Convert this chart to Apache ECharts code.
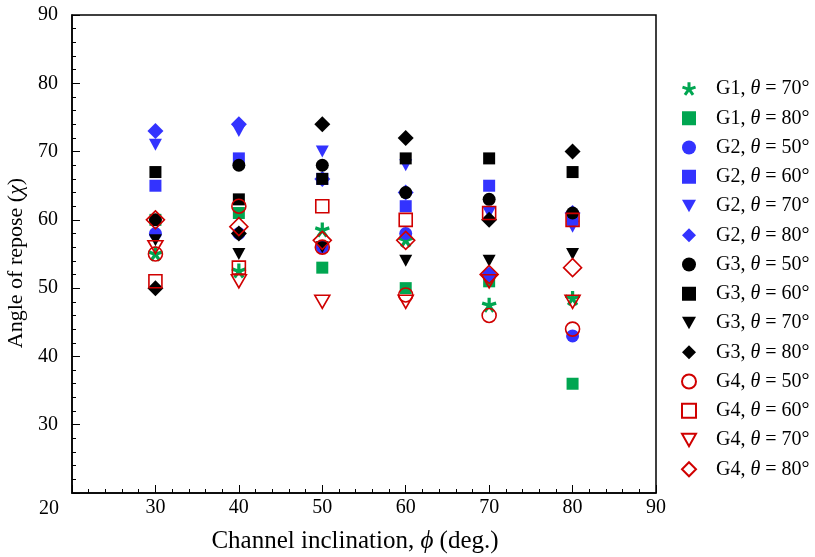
<!DOCTYPE html>
<html>
<head>
<meta charset="utf-8">
<script src="https://cdn.jsdelivr.net/npm/echarts@6/dist/echarts.min.js"></script>
<style>html,body{margin:0;padding:0;background:#fff;}#c{width:815px;height:557px;}</style>
</head>
<body>
<div id="c"></div>
<script>
// Channel inclination (x) values
const inclinations = [30, 40, 50, 60, 70, 80];
// Angle of repose per group / theta
const G1_70 = [55, 52.5, 58.5, 57, 47.5, 48.5];
const G1_80 = [60, 61, 53, 50, 51, 36];
const G2_50 = [58, 58, 56, 58, 52, 43];
const G2_60 = [65, 69, 66, 62, 65, 60];
const G2_70 = [71, 73, 70, 68, 61, 59];
const G2_80 = [73, 74, 66, 64, 52, 61];
const G3_50 = [60, 68, 68, 64, 63, 61];
const G3_60 = [67, 63, 66, 69, 69, 67];
const G3_70 = [57, 55, 56, 54, 54, 55];
const G3_80 = [50, 58, 74, 72, 60, 70];
const G4_50 = [55, 62, 56, 49, 46, 44];
const G4_60 = [51, 53, 62, 60, 61, 60];
const G4_70 = [56, 51, 48, 48, 51, 48];
const G4_80 = [60, 59, 57, 57, 52, 53];
const xTicks = [20, 30, 40, 50, 60, 70, 80, 90];
const yTicks = [20, 30, 40, 50, 60, 70, 80, 90];

const GREEN = '#00a651', BLUE = '#3333ff', BLACK = '#000000', RED = '#d00000';
const FONT = '"Liberation Serif", "Times New Roman", serif';

function asteriskPath() {
  const h = 0.22, R = 1, pts = [];
  const rin = h / Math.sin(36 * Math.PI / 180);
  for (let k = 0; k < 5; k++) {
    const a = (-90 + 72 * k) * Math.PI / 180;
    const dx = Math.cos(a), dy = Math.sin(a), px = -Math.sin(a), py = Math.cos(a);
    pts.push([R * dx - h * px, R * dy - h * py]);
    pts.push([R * dx + h * px, R * dy + h * py]);
    const b = a + 36 * Math.PI / 180;
    pts.push([rin * Math.cos(b), rin * Math.sin(b)]);
  }
  return 'path://' + pts.map((p, i) => (i ? 'L' : 'M') + ((p[0] + 1.2) * 50).toFixed(2) + ' ' + ((p[1] + 1.2) * 50).toFixed(2)).join(' ') + ' Z';
}
const STAR = asteriskPath();
const TRI_DOWN = 'path://M0 0 L100 0 L50 90 Z';

function mk(name, vals, symbol, size, color, hollow) {
  return {
    name: name,
    type: 'scatter',
    data: inclinations.map((x, i) => [x, vals[i]]),
    symbol: symbol,
    symbolSize: size,
    itemStyle: hollow
      ? { color: 'rgba(255,255,255,0)', borderColor: color, borderWidth: 1.6, opacity: 1 }
      : { color: color, opacity: 1 },
    emphasis: { disabled: true },
    animation: false
  };
}

const series = [
  mk('G1|70', G1_70, STAR, 15, GREEN, false),
  mk('G1|80', G1_80, 'rect', 12, GREEN, false),
  mk('G2|50', G2_50, 'circle', 13, BLUE, false),
  mk('G2|60', G2_60, 'rect', 12, BLUE, false),
  mk('G2|70', G2_70, TRI_DOWN, [13, 12], BLUE, false),
  mk('G2|80', G2_80, 'diamond', 16, BLUE, false),
  mk('G3|50', G3_50, 'circle', 13, BLACK, false),
  mk('G3|60', G3_60, 'rect', 12, BLACK, false),
  mk('G3|70', G3_70, TRI_DOWN, [13, 12], BLACK, false),
  mk('G3|80', G3_80, 'diamond', 16, BLACK, false),
  mk('G4|50', G4_50, 'circle', 14, RED, true),
  mk('G4|60', G4_60, 'rect', 13, RED, true),
  mk('G4|70', G4_70, TRI_DOWN, [15, 13], RED, true),
  mk('G4|80', G4_80, 'diamond', 18, RED, true)
];

const chart = echarts.init(document.getElementById('c'), null, { renderer: 'canvas' });
const xNameRich = {
  n: { fontFamily: FONT, fontSize: 25, color: '#000' },
  i: { fontFamily: FONT, fontSize: 25, fontStyle: 'italic', color: '#000' }
};
const yNameRich = {
  n: { fontFamily: FONT, fontSize: 22, color: '#000' },
  i: { fontFamily: FONT, fontSize: 22, fontStyle: 'italic', color: '#000' }
};
const option = {
  backgroundColor: '#fff',
  animation: false,
  grid: { left: 72, right: 159, top: 15, bottom: 64, containLabel: false, outerBoundsMode: 'none', show: true, borderColor: '#000', borderWidth: 1.5, backgroundColor: 'transparent' },
  xAxis: {
    type: 'value', min: xTicks[0], max: xTicks[xTicks.length - 1], interval: 10,
    name: '{n|Channel inclination, }{i|ϕ}{n| (deg.)}',
    nameLocation: 'middle', nameGap: 36,
    nameTextStyle: { rich: xNameRich, padding: [0, 18, 0, 0] },
    axisLine: { show: true, onZero: false, lineStyle: { color: '#000', width: 1.5 } },
    axisTick: { show: true, inside: true, length: 8, lineStyle: { color: '#000', width: 1 } },
    minorTick: { show: true, splitNumber: 5, length: 4, lineStyle: { color: '#000', width: 1 } },
    splitLine: { show: false },
    axisLabel: { showMinLabel: false, fontFamily: FONT, fontSize: 20, color: '#000', margin: 5 }
  },
  yAxis: {
    type: 'value', min: yTicks[0], max: yTicks[yTicks.length - 1], interval: 10,
    name: '{n|Angle of repose (}{i|χ}{n|)}',
    nameLocation: 'middle', nameGap: 38, nameRotate: 90,
    nameTextStyle: { rich: yNameRich, padding: [0, 18, 0, 0] },
    axisLine: { show: true, onZero: false, lineStyle: { color: '#000', width: 1.5 } },
    axisTick: { show: true, inside: true, length: 8, lineStyle: { color: '#000', width: 1 } },
    minorTick: { show: true, splitNumber: 5, length: 4, lineStyle: { color: '#000', width: 1 } },
    splitLine: { show: false },
    axisLabel: { showMinLabel: false, fontFamily: FONT, fontSize: 20, color: '#000', margin: 14 }
  },
  legend: {
    orient: 'vertical', left: 676, top: 74,
    itemWidth: 14, itemHeight: 14, itemGap: 9.25,
    selectedMode: false,
    data: series.map(s => s.name),
    formatter: function (name) {
      const p = name.split('|');
      return '{sp|}{n|' + p[0] + ', }{i|θ}{n| = ' + p[1] + '°}';
    },
    textStyle: {
      rich: {
        sp: { width: 15, lineHeight: 19 },
        n: { fontFamily: FONT, fontSize: 20, color: '#000', lineHeight: 19 },
        i: { fontFamily: FONT, fontSize: 20, fontStyle: 'italic', color: '#000', lineHeight: 19 }
      }
    }
  },
  series: series
};
chart.setOption(option);
const corner = chart.convertToPixel({ gridIndex: 0 }, [xTicks[0], yTicks[0]]);
chart.setOption({
  graphic: [{
    type: 'text', left: corner[0] - 33, top: corner[1] + 6,
    style: { text: String(yTicks[0]), font: '20px ' + FONT, fill: '#000' }
  }]
});
</script>
</body>
</html>
